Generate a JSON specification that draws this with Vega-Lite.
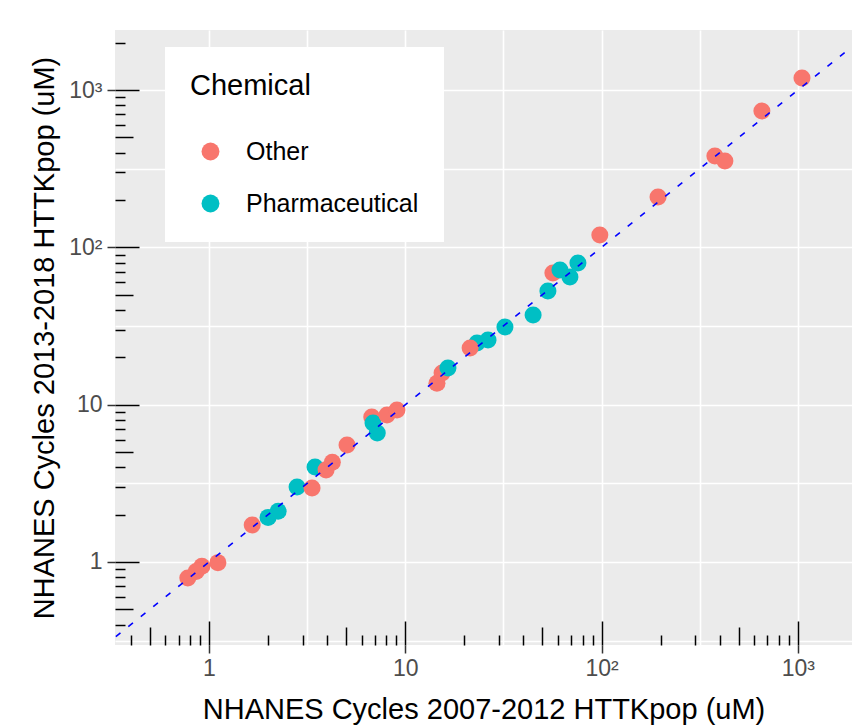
{
  "$schema": "https://vega.github.io/schema/vega-lite/v6.json",
  "width": 737,
  "height": 615,
  "autosize": {"type": "none"},
  "padding": {"left": 115, "top": 30, "right": 0, "bottom": 81},
  "background": "white",
  "config": {
    "view": {"fill": "#EBEBEB", "stroke": null},
    "axis": {
      "labelFont": "Liberation Sans",
      "titleFont": "Liberation Sans",
      "titleFontWeight": "normal",
      "domain": false
    }
  },
  "datasets": {
    "pts": [
      {"x": 0.78, "y": 0.79, "Chemical": "Other"},
      {"x": 0.86, "y": 0.87, "Chemical": "Other"},
      {"x": 0.92, "y": 0.94, "Chemical": "Other"},
      {"x": 1.11, "y": 0.99, "Chemical": "Other"},
      {"x": 1.66, "y": 1.72, "Chemical": "Other"},
      {"x": 2.0, "y": 1.92, "Chemical": "Pharmaceutical"},
      {"x": 2.25, "y": 2.1, "Chemical": "Pharmaceutical"},
      {"x": 2.81, "y": 3.0, "Chemical": "Pharmaceutical"},
      {"x": 3.35, "y": 2.95, "Chemical": "Other"},
      {"x": 3.47, "y": 4.02, "Chemical": "Pharmaceutical"},
      {"x": 3.95, "y": 3.85, "Chemical": "Other"},
      {"x": 4.25, "y": 4.3, "Chemical": "Other"},
      {"x": 5.05, "y": 5.54, "Chemical": "Other"},
      {"x": 6.75, "y": 8.35, "Chemical": "Other"},
      {"x": 6.85, "y": 7.65, "Chemical": "Pharmaceutical"},
      {"x": 7.2, "y": 6.6, "Chemical": "Pharmaceutical"},
      {"x": 8.07, "y": 8.6, "Chemical": "Other"},
      {"x": 9.07, "y": 9.25, "Chemical": "Other"},
      {"x": 14.5, "y": 13.7, "Chemical": "Other"},
      {"x": 15.4, "y": 15.9, "Chemical": "Other"},
      {"x": 16.5, "y": 17.1, "Chemical": "Pharmaceutical"},
      {"x": 23.2, "y": 24.7, "Chemical": "Pharmaceutical"},
      {"x": 21.4, "y": 22.9, "Chemical": "Other"},
      {"x": 26.4, "y": 25.8, "Chemical": "Pharmaceutical"},
      {"x": 32.2, "y": 31.2, "Chemical": "Pharmaceutical"},
      {"x": 44.8, "y": 37.2, "Chemical": "Pharmaceutical"},
      {"x": 53.3, "y": 52.8, "Chemical": "Pharmaceutical"},
      {"x": 56.5, "y": 68.7, "Chemical": "Other"},
      {"x": 61.4, "y": 71.8, "Chemical": "Pharmaceutical"},
      {"x": 69.0, "y": 64.9, "Chemical": "Pharmaceutical"},
      {"x": 75.8, "y": 79.6, "Chemical": "Pharmaceutical"},
      {"x": 98, "y": 120, "Chemical": "Other"},
      {"x": 194, "y": 209, "Chemical": "Other"},
      {"x": 378, "y": 381, "Chemical": "Other"},
      {"x": 425, "y": 354, "Chemical": "Other"},
      {"x": 656, "y": 736, "Chemical": "Other"},
      {"x": 1050, "y": 1194, "Chemical": "Other"}
    ],
    "line": [
      {"x": 0.25, "y": 0.25},
      {"x": 3000, "y": 3000}
    ]
  },
  "layer": [
    {
      "data": {"name": "pts"},
      "mark": {"type": "point", "filled": true, "size": 290, "opacity": 1, "strokeWidth": 0},
      "encoding": {
        "x": {
          "field": "x", "type": "quantitative",
          "scale": {"type": "log", "domain": [0.332, 1888], "nice": false, "zero": false},
          "axis": {
            "orient": "bottom",
            "title": "NHANES Cycles 2007-2012 HTTKpop (uM)",
            "titleFontSize": 29, "titleColor": "black", "titlePadding": 15,
            "values": [1, 10, 100, 1000],
            "labelExpr": "datum.value == 1 ? '1' : datum.value == 10 ? '10' : datum.value == 100 ? '10²' : '10³'",
            "labelFontSize": 23, "labelColor": "#4D4D4D", "labelPadding": 4,
            "tickSize": 8, "tickColor": "#333333", "tickWidth": 1.5,
            "grid": false
          }
        },
        "y": {
          "field": "y", "type": "quantitative",
          "scale": {"type": "log", "domain": [0.2965, 2410], "nice": false, "zero": false},
          "axis": {
            "orient": "left",
            "title": "NHANES Cycles 2013-2018 HTTKpop (uM)",
            "titleFontSize": 29, "titleColor": "black", "titlePadding": 9,
            "values": [1, 10, 100, 1000],
            "labelExpr": "datum.value == 1 ? '1' : datum.value == 10 ? '10' : datum.value == 100 ? '10²' : '10³'",
            "labelFontSize": 23, "labelColor": "#4D4D4D", "labelPadding": 5,
            "tickSize": 8, "tickColor": "#333333", "tickWidth": 1.5,
            "grid": false
          }
        },
        "color": {
          "field": "Chemical", "type": "nominal",
          "scale": {"domain": ["Other", "Pharmaceutical"], "range": ["#F8766D", "#00BFC4"]},
          "legend": {
            "orient": "none", "legendX": 50, "legendY": 17,
            "title": "Chemical",
            "titleFont": "Liberation Sans", "titleFontSize": 29, "titleFontWeight": "normal", "titleColor": "black",
            "titlePadding": 38,
            "labelFont": "Liberation Sans", "labelFontSize": 25, "labelColor": "black", "labelLimit": 500,
            "fillColor": "white", "padding": 25,
            "symbolType": "circle", "symbolSize": 320, "symbolStrokeWidth": 0,
            "symbolOffset": 8, "labelOffset": 23, "rowPadding": 26
          }
        }
      }
    },
    {
      "data": {"name": "line"},
      "mark": {"type": "line", "color": "#0000FF", "strokeWidth": 1.6, "strokeDash": [6, 10], "clip": true},
      "encoding": {
        "x": {
          "field": "x", "type": "quantitative",
          "scale": {"type": "log", "domain": [0.332, 1888], "nice": false, "zero": false},
          "axis": {
            "orient": "bottom", "title": null, "labels": false, "ticks": false,
            "values": [1, 3.16228, 10, 31.6228, 100, 316.228, 1000],
            "grid": true, "gridColor": "white", "gridWidth": 1.6, "gridOpacity": 1
          }
        },
        "y": {
          "field": "y", "type": "quantitative",
          "scale": {"type": "log", "domain": [0.2965, 2410], "nice": false, "zero": false},
          "axis": {
            "orient": "left", "title": null, "labels": false, "ticks": false,
            "values": [0.316228, 1, 3.16228, 10, 31.6228, 100, 316.228, 1000],
            "grid": true, "gridColor": "white", "gridWidth": 1.6, "gridOpacity": 1
          }
        }
      }
    },
    {
      "data": {"name": "pts"},
      "mark": {"type": "point", "opacity": 0, "size": 1},
      "encoding": {
        "x": {
          "field": "x", "type": "quantitative",
          "scale": {"type": "log", "domain": [0.332, 1888], "nice": false, "zero": false},
          "axis": {
            "orient": "bottom", "title": null, "labels": false, "grid": false,
            "values": [0.4, 0.5, 0.6, 0.7, 0.8, 0.9, 1, 2, 3, 4, 5, 6, 7, 8, 9, 10, 20, 30, 40, 50, 60, 70, 80, 90, 100, 200, 300, 400, 500, 600, 700, 800, 900, 1000],
            "tickColor": "black", "tickWidth": 1.5,
            "tickSize": {"condition": [
              {"test": "indexof([1, 10, 100, 1000], datum.value) >= 0", "value": -24},
              {"test": "indexof([0.5, 5, 50, 500], datum.value) >= 0", "value": -18}
            ], "value": -10}
          }
        },
        "y": {
          "field": "y", "type": "quantitative",
          "scale": {"type": "log", "domain": [0.2965, 2410], "nice": false, "zero": false},
          "axis": {
            "orient": "left", "title": null, "labels": false, "grid": false,
            "values": [0.4, 0.5, 0.6, 0.7, 0.8, 0.9, 1, 2, 3, 4, 5, 6, 7, 8, 9, 10, 20, 30, 40, 50, 60, 70, 80, 90, 100, 200, 300, 400, 500, 600, 700, 800, 900, 1000, 2000],
            "tickColor": "black", "tickWidth": 1.5,
            "tickSize": {"condition": [
              {"test": "indexof([1, 10, 100, 1000], datum.value) >= 0", "value": -24},
              {"test": "indexof([0.5, 5, 50, 500], datum.value) >= 0", "value": -18}
            ], "value": -10}
          }
        }
      }
    }
  ],
  "resolve": {"axis": {"x": "independent", "y": "independent"}}
}
